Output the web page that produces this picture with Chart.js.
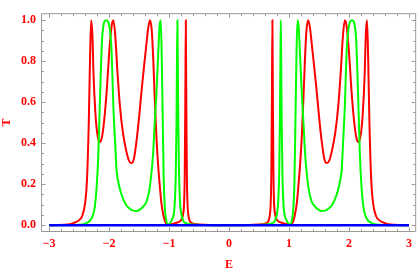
<!DOCTYPE html>
<html>
<head>
<meta charset="utf-8">
<script src="https://cdn.jsdelivr.net/npm/chart.js@4.4.1/dist/chart.umd.min.js"></script>
<style>
  html, body { margin: 0; padding: 0; background: #fff; }
  #wrap { width: 417px; height: 272px; }
</style>
</head>
<body>
<div id="wrap"><canvas id="tChart" width="417" height="272"></canvas></div>
<script>
// values
var xTicks = [-3, -2, -1, 0, 1, 2, 3];
var xTickLabels = ['−3', '−2', '−1', '0', '1', '2', '3'];
var yTicks = [0, 0.2, 0.4, 0.6, 0.8, 1.0];
var yTickLabels = ['0.0', '0.2', '0.4', '0.6', '0.8', '1.0'];

var redE = [
  -3.0, -2.7, -2.6, -2.5, -2.45, -2.4, -2.37, -2.34, -2.32, -2.3, -2.28, -2.26, -2.23, -2.2, -2.16,
  -2.12, -2.08, -2.04, -2.0, -1.96, -1.93, -1.9, -1.86, -1.82, -1.77, -1.72, -1.67, -1.63, -1.59, -1.54,
  -1.5, -1.46, -1.42, -1.38, -1.35, -1.32, -1.29, -1.265, -1.24, -1.21, -1.18, -1.155, -1.13, -1.1, -1.07,
  -1.04, -1.0, -0.95, -0.9, -0.85, -0.8, -0.77, -0.75, -0.74, -0.73, -0.722, -0.714, -0.704, -0.694, -0.674,
  -0.62, -0.55, -0.4, -0.2,
  0,
  0.2, 0.4, 0.55, 0.62,
  0.674, 0.694, 0.704, 0.714, 0.722, 0.73, 0.74, 0.75, 0.77, 0.8, 0.85, 0.9, 0.95, 1.0, 1.04,
  1.07, 1.1, 1.13, 1.155, 1.18, 1.21, 1.24, 1.265, 1.29, 1.32, 1.35, 1.38, 1.42, 1.46, 1.5,
  1.54, 1.59, 1.63, 1.67, 1.72, 1.77, 1.82, 1.86, 1.9, 1.93, 1.96, 2.0, 2.04, 2.08, 2.12,
  2.16, 2.2, 2.23, 2.26, 2.28, 2.3, 2.32, 2.34, 2.37, 2.4, 2.45, 2.5, 2.6, 2.7, 3.0
];
var redT = [
  0, 0.003, 0.01, 0.025, 0.045, 0.11, 0.22, 0.5, 0.8, 1.0, 0.93, 0.73, 0.55, 0.45, 0.405,
  0.43, 0.52, 0.66, 0.84, 0.97, 1.0, 0.93, 0.74, 0.58, 0.45, 0.37, 0.315, 0.303, 0.32, 0.42,
  0.53, 0.655, 0.77, 0.88, 0.96, 1.0, 0.95, 0.81, 0.62, 0.42, 0.28, 0.19, 0.11, 0.055, 0.02,
  0.005, 0.004, 0.006, 0.01, 0.015, 0.025, 0.05, 0.11, 0.24, 0.62, 1.0, 0.62, 0.24, 0.11, 0.04,
  0.01, 0.005, 0.002, 0,
  0,
  0, 0.002, 0.005, 0.01,
  0.04, 0.11, 0.24, 0.62, 1.0, 0.62, 0.24, 0.11, 0.05, 0.025, 0.015, 0.01, 0.006, 0.004, 0.005,
  0.02, 0.055, 0.11, 0.19, 0.28, 0.42, 0.62, 0.81, 0.95, 1.0, 0.96, 0.88, 0.77, 0.655, 0.53,
  0.42, 0.32, 0.303, 0.315, 0.37, 0.45, 0.58, 0.74, 0.93, 1.0, 0.97, 0.84, 0.66, 0.52, 0.43,
  0.405, 0.45, 0.55, 0.73, 0.93, 1.0, 0.8, 0.5, 0.22, 0.11, 0.045, 0.025, 0.01, 0.003, 0
];

var greenE = [
  -3.0, -2.5, -2.4, -2.35, -2.3, -2.26, -2.24, -2.21, -2.18, -2.16, -2.14, -2.12, -2.1, -2.08, -2.05,
  -2.02, -2.0, -1.98, -1.96, -1.945, -1.93, -1.9, -1.877, -1.84, -1.79, -1.72, -1.655, -1.6, -1.545, -1.49,
  -1.43, -1.377, -1.33, -1.3, -1.267, -1.24, -1.21, -1.18, -1.16, -1.14, -1.125, -1.11, -1.09, -1.07, -1.05,
  -1.02, -0.98, -0.95, -0.93, -0.91, -0.89, -0.877, -0.87, -0.862, -0.855, -0.847, -0.835, -0.82, -0.8, -0.77,
  -0.72, -0.6, -0.3,
  0,
  0.3, 0.6, 0.72,
  0.77, 0.8, 0.82, 0.835, 0.847, 0.855, 0.862, 0.87, 0.877, 0.89, 0.91, 0.93, 0.95, 0.98, 1.02,
  1.05, 1.07, 1.09, 1.11, 1.125, 1.14, 1.16, 1.18, 1.21, 1.24, 1.267, 1.3, 1.33, 1.377, 1.43,
  1.49, 1.545, 1.6, 1.655, 1.72, 1.79, 1.84, 1.877, 1.9, 1.93, 1.945, 1.96, 1.98, 2.0, 2.02,
  2.05, 2.08, 2.1, 2.12, 2.14, 2.16, 2.18, 2.21, 2.24, 2.26, 2.3, 2.35, 2.4, 2.5, 3.0
];
var greenT = [
  0, 0.002, 0.008, 0.015, 0.03, 0.06, 0.09, 0.18, 0.35, 0.55, 0.74, 0.9, 0.965, 0.993, 1.0,
  0.993, 0.975, 0.93, 0.85, 0.72, 0.58, 0.4, 0.27, 0.2, 0.146, 0.1, 0.08, 0.071, 0.069, 0.076,
  0.092, 0.115, 0.17, 0.24, 0.35, 0.5, 0.655, 0.85, 0.97, 1.0, 0.85, 0.58, 0.22, 0.08, 0.03,
  0.003, 0.012, 0.03, 0.045, 0.09, 0.24, 0.5, 0.78, 1.0, 0.78, 0.5, 0.25, 0.12, 0.06, 0.025,
  0.01, 0.003, 0,
  0,
  0, 0.003, 0.01,
  0.025, 0.06, 0.12, 0.25, 0.5, 0.78, 1.0, 0.78, 0.5, 0.24, 0.09, 0.045, 0.03, 0.012, 0.003,
  0.03, 0.08, 0.22, 0.58, 0.85, 1.0, 0.97, 0.85, 0.655, 0.5, 0.35, 0.24, 0.17, 0.115, 0.092,
  0.076, 0.069, 0.071, 0.08, 0.1, 0.146, 0.2, 0.27, 0.4, 0.58, 0.72, 0.85, 0.93, 0.975, 0.993,
  1.0, 0.993, 0.965, 0.9, 0.74, 0.55, 0.35, 0.18, 0.09, 0.06, 0.03, 0.015, 0.008, 0.002, 0
];

var blueE = [-3, 3];
var blueT = [0, 0];

function toPoints(xs, ys) {
  return xs.map(function(x, i) { return { x: x, y: ys[i] }; });
}

var labelFont = { family: '"Liberation Serif", "DejaVu Serif", serif', size: 12, weight: 'bold' };

// Mathematica-style frame with inward ticks on all four sides
var frameTicks = {
  id: 'frameTicks',
  afterDatasetsDraw: function(chart) {
    var ctx = chart.ctx, a = chart.chartArea;
    var xs = chart.scales.x, ys = chart.scales.y;
    var L = a.left - 0.5, R = a.right - 0.5, T = a.top + 0.5, B = a.bottom - 0.5;
    ctx.save();
    ctx.strokeStyle = '#999999';
    ctx.lineWidth = 1;
    ctx.beginPath();
    ctx.moveTo(L, T); ctx.lineTo(R, T); ctx.lineTo(R, B); ctx.lineTo(L, B); ctx.closePath();
    for (var i = -15; i <= 15; i++) {
      var px = Math.round(xs.getPixelForValue(i / 5)) + 0.5;
      var len = (i % 5 === 0) ? 4 : 2.5;
      ctx.moveTo(px, B); ctx.lineTo(px, B - len);
      ctx.moveTo(px, T); ctx.lineTo(px, T + len);
    }
    for (var j = 0; j <= 20; j++) {
      var py = Math.round(ys.getPixelForValue(j / 20)) + 0.5;
      var ylen = (j % 4 === 0) ? 4 : 2.5;
      ctx.moveTo(L, py); ctx.lineTo(L + ylen, py);
      ctx.moveTo(R, py); ctx.lineTo(R - ylen, py);
    }
    ctx.stroke();
    ctx.restore();
  }
};

document.addEventListener('DOMContentLoaded', function() {
  var ctx = document.getElementById('tChart').getContext('2d');
  var tChart = new Chart(ctx, {
    type: 'line',
    data: {
      datasets: [{
        data: toPoints(blueE, blueT),
        borderColor: '#0000ff',
        borderWidth: 2.6
      }, {
        data: toPoints(greenE, greenT),
        borderColor: '#00ff00',
        borderWidth: 2,
        cubicInterpolationMode: 'monotone'
      }, {
        data: toPoints(redE, redT),
        borderColor: '#ff0000',
        borderWidth: 2,
        cubicInterpolationMode: 'monotone'
      }]
    },
    options: {
      responsive: false,
      animation: false,
      devicePixelRatio: 1,
      layout: { padding: { top: 1, right: 0, left: 0, bottom: 0 } },
      elements: { point: { radius: 0 } },
      plugins: {
        legend: { display: false },
        tooltip: { enabled: false }
      },
      scales: {
        x: {
          type: 'linear',
          min: -3.12,
          max: 3.12,
          grid: { display: false, drawTicks: false },
          border: { display: false },
          afterBuildTicks: function(scale) {
            scale.ticks = xTicks.map(function(v) { return { value: v }; });
          },
          afterFit: function(scale) { scale.height = 40; },
          ticks: {
            color: '#ff0000',
            font: labelFont,
            padding: 5,
            maxRotation: 0,
            callback: function(value, index) { return xTickLabels[index]; }
          },
          title: {
            display: true,
            text: 'E',
            color: '#ff0000',
            font: labelFont,
            padding: { top: 0, bottom: 0 }
          }
        },
        y: {
          min: -0.033,
          max: 1.034,
          grid: { display: false, drawTicks: false },
          border: { display: false },
          afterBuildTicks: function(scale) {
            scale.ticks = yTicks.map(function(v) { return { value: v }; });
          },
          afterFit: function(scale) { scale.width = 42; },
          ticks: {
            color: '#ff0000',
            font: labelFont,
            padding: 6,
            callback: function(value, index) { return yTickLabels[index]; }
          },
          title: {
            display: true,
            text: 'T',
            color: '#ff0000',
            font: labelFont,
            padding: { top: 0, bottom: 0 }
          }
        }
      }
    },
    plugins: [frameTicks]
  });
});
</script>
</body>
</html>
